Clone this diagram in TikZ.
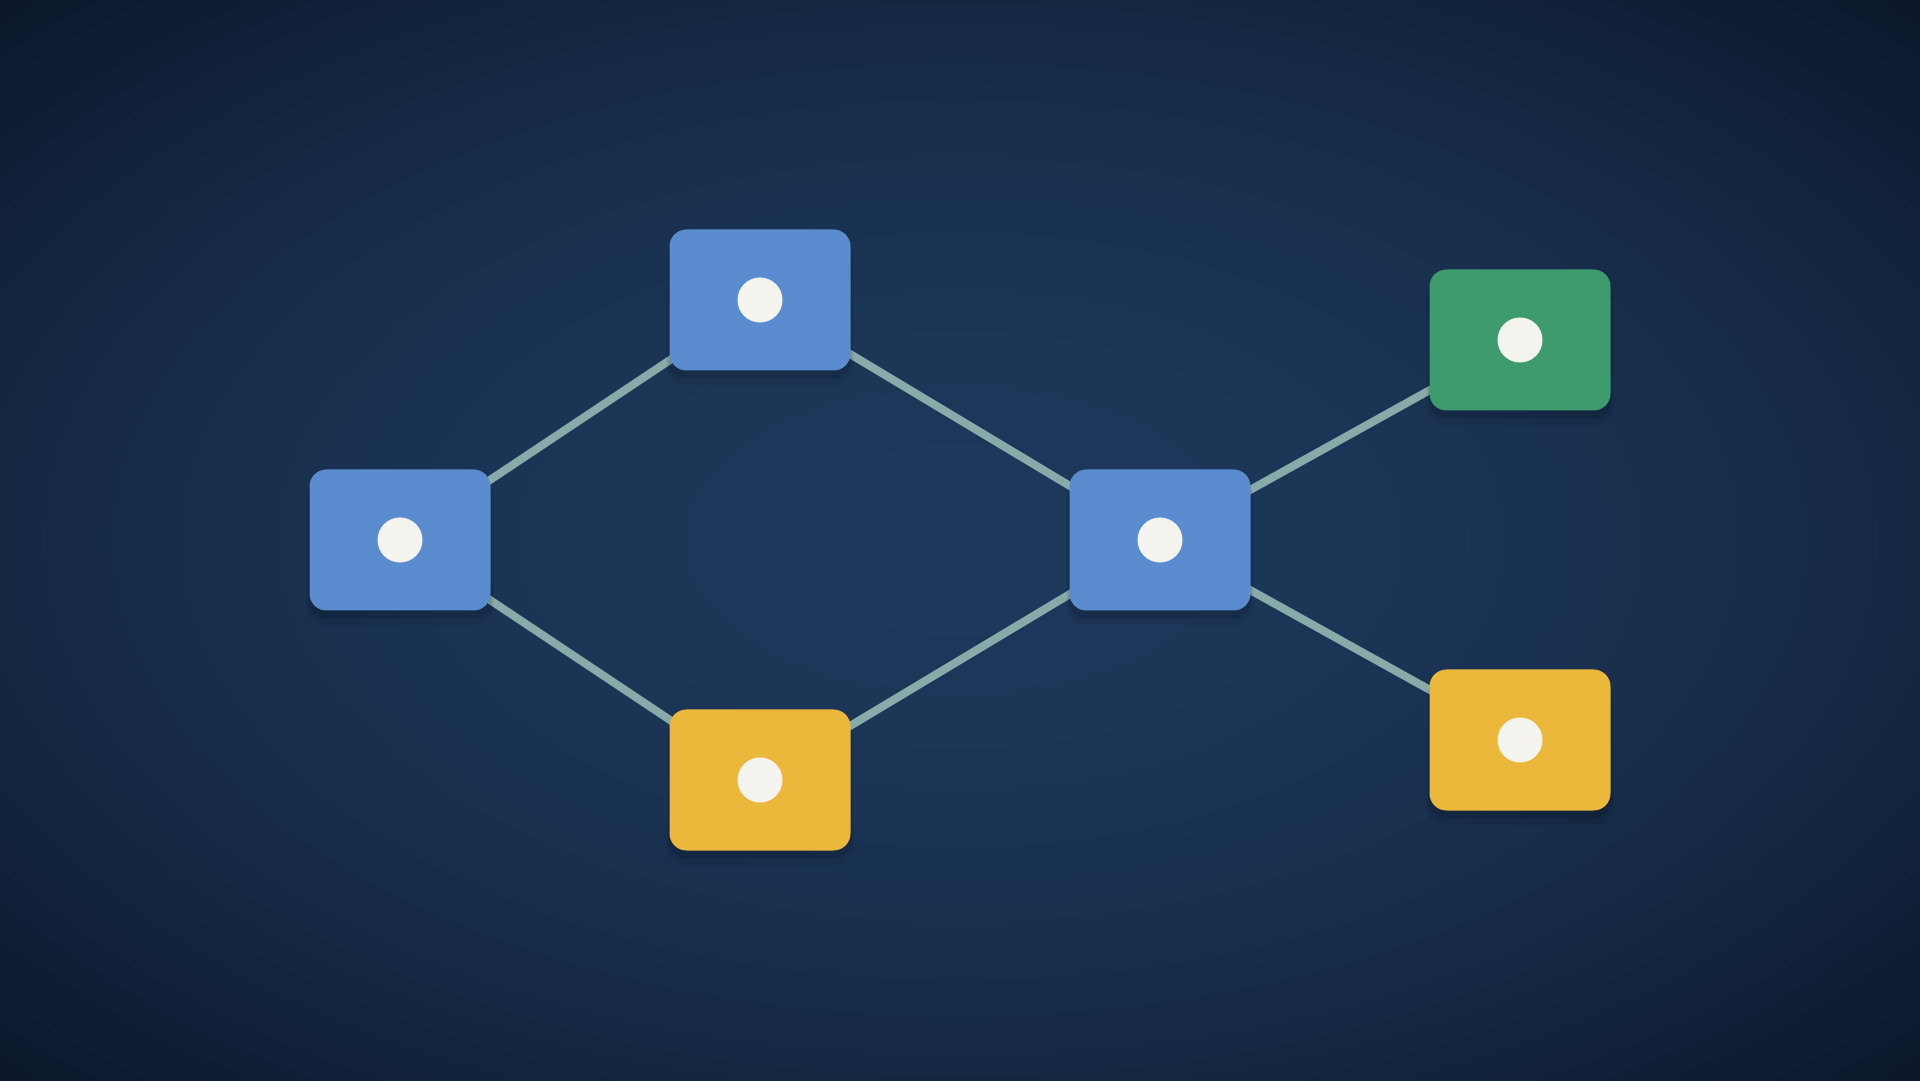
\documentclass[tikz,border=0pt]{standalone}
\usetikzlibrary{backgrounds}
\definecolor{navyin}{HTML}{1D385B}
\definecolor{navyout}{HTML}{0C172A}
\definecolor{tileblue}{HTML}{5B8CCF}
\definecolor{tileyellow}{HTML}{ECB83C}
\definecolor{tilegreen}{HTML}{3D9B6D}
\definecolor{linkgray}{HTML}{88ABA9}
\definecolor{dotwhite}{HTML}{F4F3EE}
\tikzset{
  tile/.style={rectangle, rounded corners=17pt, minimum width=181pt, minimum height=141pt, inner sep=0pt, fill=#1},
  dot/.style={circle, fill=dotwhite, minimum size=45pt, inner sep=0pt},
  link/.style={draw=linkgray, line width=8pt},
  tileshadow/.style={fill=black, fill opacity=#1, rounded corners=18pt}
}
\begin{document}
\begin{tikzpicture}[x=1pt,y=1pt]
  \useasboundingbox (0,0) rectangle (1920,1080);
  % vignette
  \begin{scope}[on background layer]
    \fill[navyout] (0,0) rectangle (1920,1080);
    \foreach \k [evaluate=\k as \r using 1-\k/40, evaluate=\k as \p using 100*(1-(1-\k/40)^2)] in {0,...,39}
      \fill[navyin!\p!navyout] (960,540) ellipse [x radius=1360*\r, y radius=765*\r];
  \end{scope}
  % tiles
  \node[tile=tileblue]   (left)   at (400,540)  {};
  \node[tile=tileblue]   (top)    at (760,780)  {};
  \node[tile=tileyellow] (bottom) at (760,300)  {};
  \node[tile=tileblue]   (hub)    at (1160,540) {};
  \node[tile=tilegreen]  (outup)  at (1520,740) {};
  \node[tile=tileyellow] (outlow) at (1520,340) {};
  \foreach \t in {left,top,bottom,hub,outup,outlow}
    \node[dot] (\t-dot) at (\t.center) {};
  % links and shadows behind the tiles
  \begin{scope}[on background layer]
    \draw[link] (left.center) -- (top.center);
    \draw[link] (left.center) -- (bottom.center);
    \draw[link] (top.center) -- (hub.center);
    \draw[link] (bottom.center) -- (hub.center);
    \draw[link] (hub.center) -- (outup.center);
    \draw[link] (hub.center) -- (outlow.center);
    \foreach \t in {left,top,bottom,hub,outup,outlow}{
      \fill[tileshadow=0.07] ([shift={(-3,-14)}]\t.south west) rectangle ([shift={(3,-10)}]\t.north east);
      \fill[tileshadow=0.10] ([shift={(-1,-8)}]\t.south west) rectangle ([shift={(1,-10)}]\t.north east);
    }
  \end{scope}
\end{tikzpicture}
\end{document}
